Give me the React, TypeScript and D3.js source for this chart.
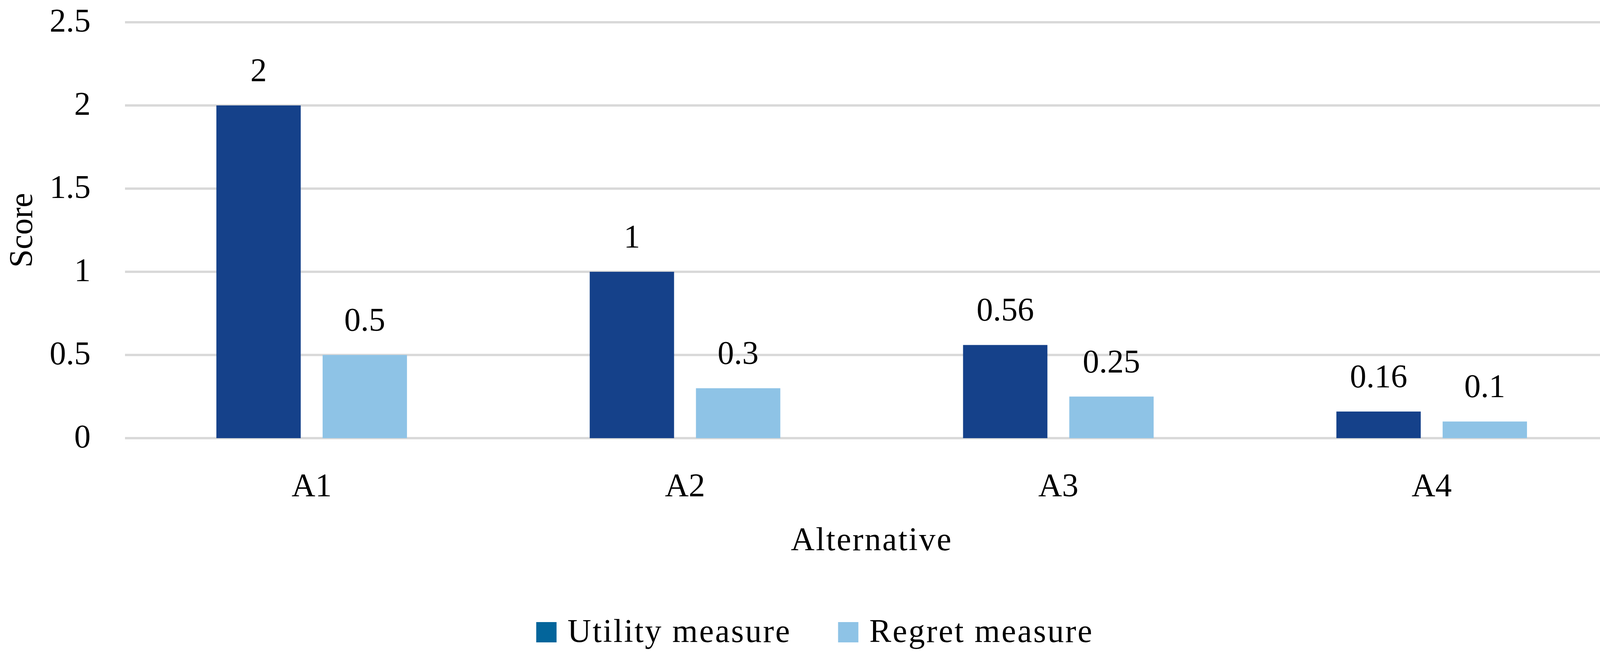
import * as React from "react";
import * as d3 from "d3";

const { useRef, useEffect } = React;

const categories = ["A1", "A2", "A3", "A4"];
const seriesNames = ["Utility measure", "Regret measure"];
const utilityValues = [2, 1, 0.56, 0.16];
const regretValues = [0.5, 0.3, 0.25, 0.1];
const yTickValues = [0, 0.5, 1, 1.5, 2, 2.5];
const yTickLabels = ["0", "0.5", "1", "1.5", "2", "2.5"];
const dataLabels = [
  ["2", "1", "0.56", "0.16"],
  ["0.5", "0.3", "0.25", "0.1"],
];

const barColors = ["#15418a", "#8ec3e6"];
const legendColors = ["#03659b", "#8ec3e6"];

const W = 4172;
const H = 1685;
const FONT = "'Liberation Serif', 'Times New Roman', serif";

const App = () => {
  const svgRef = useRef(null);

  useEffect(() => {
    document.body.style.margin = "0";
    const svg = d3.select(svgRef.current);
    svg.selectAll("*").remove();

    const margin = { top: 57, right: W - 4143, bottom: H - 1122, left: 320 };
    const plotW = W - margin.left - margin.right;

    const x = d3.scaleBand().domain(categories).range([margin.left, W - margin.right]);
    const xs = d3.scaleBand().domain(seriesNames).range([0, x.bandwidth()])
      .paddingInner(0.206).paddingOuter(0.86);
    const y = d3.scaleLinear().domain([0, 2.5]).range([H - margin.bottom, margin.top]);

    // gridlines
    svg.append("g")
      .selectAll("line")
      .data(yTickValues)
      .join("line")
      .attr("x1", margin.left)
      .attr("x2", W - margin.right)
      .attr("y1", d => y(d))
      .attr("y2", d => y(d))
      .attr("stroke", "#d9d9d9")
      .attr("stroke-width", 6);

    // y tick labels
    svg.append("g")
      .attr("font-family", FONT)
      .attr("font-size", 84)
      .attr("text-anchor", "end")
      .selectAll("text")
      .data(yTickValues)
      .join("text")
      .attr("x", 232)
      .attr("y", d => y(d) + 24)
      .text((d, i) => yTickLabels[i]);

    const series = [utilityValues, regretValues];

    series.forEach((vals, si) => {
      const g = svg.append("g");
      g.selectAll("rect")
        .data(vals)
        .join("rect")
        .attr("x", (d, i) => x(categories[i]) + xs(seriesNames[si]))
        .attr("y", d => y(d))
        .attr("width", xs.bandwidth())
        .attr("height", d => y(0) - y(d))
        .attr("fill", barColors[si]);

      g.selectAll("text")
        .data(vals)
        .join("text")
        .attr("font-family", FONT)
        .attr("font-size", 84)
        .attr("text-anchor", "middle")
        .attr("x", (d, i) => x(categories[i]) + xs(seriesNames[si]) + xs.bandwidth() / 2)
        .attr("y", d => y(d) - 62)
        .text((d, i) => dataLabels[si][i]);
    });

    // category labels
    svg.append("g")
      .attr("font-family", FONT)
      .attr("font-size", 84)
      .attr("text-anchor", "middle")
      .selectAll("text")
      .data(categories)
      .join("text")
      .attr("x", d => x(d) + x.bandwidth() / 2)
      .attr("y", 1271)
      .text(d => d);

    // axis titles
    svg.append("text")
      .attr("font-family", FONT)
      .attr("font-size", 84)
      .attr("letter-spacing", 3.3)
      .attr("text-anchor", "middle")
      .attr("x", margin.left + plotW / 2)
      .attr("y", 1409)
      .text("Alternative");

    svg.append("text")
      .attr("font-family", FONT)
      .attr("font-size", 84)
      .attr("text-anchor", "middle")
      .attr("transform", `translate(82,${(y(0) + y(2.5)) / 2}) rotate(-90)`)
      .text("Score");

    // legend
    const legend = svg.append("g")
      .attr("font-family", FONT)
      .attr("font-size", 84)
      .attr("letter-spacing", 3.5);
    const swatch = 52;
    const gapText = 28;
    const gapItem = 120;
    const items = seriesNames.map((name, i) => {
      const t = legend.append("text").attr("y", 1644).text(name);
      const w = (t.node() as SVGTextElement).getComputedTextLength();
      return { t, w, i };
    });
    const total = items.reduce((s, it) => s + swatch + gapText + it.w, 0) + gapItem * (items.length - 1);
    let cx = W / 2 - total / 2;
    items.forEach(it => {
      legend.append("rect")
        .attr("x", cx)
        .attr("y", 1593)
        .attr("width", swatch)
        .attr("height", swatch)
        .attr("fill", legendColors[it.i]);
      it.t.attr("x", cx + swatch + gapText);
      cx += swatch + gapText + it.w + gapItem;
    });
  }, []);

  return (
    <svg ref={svgRef} width={W} height={H} style={{ display: "block", background: "#fff" }} />
  );
};

export default App;
